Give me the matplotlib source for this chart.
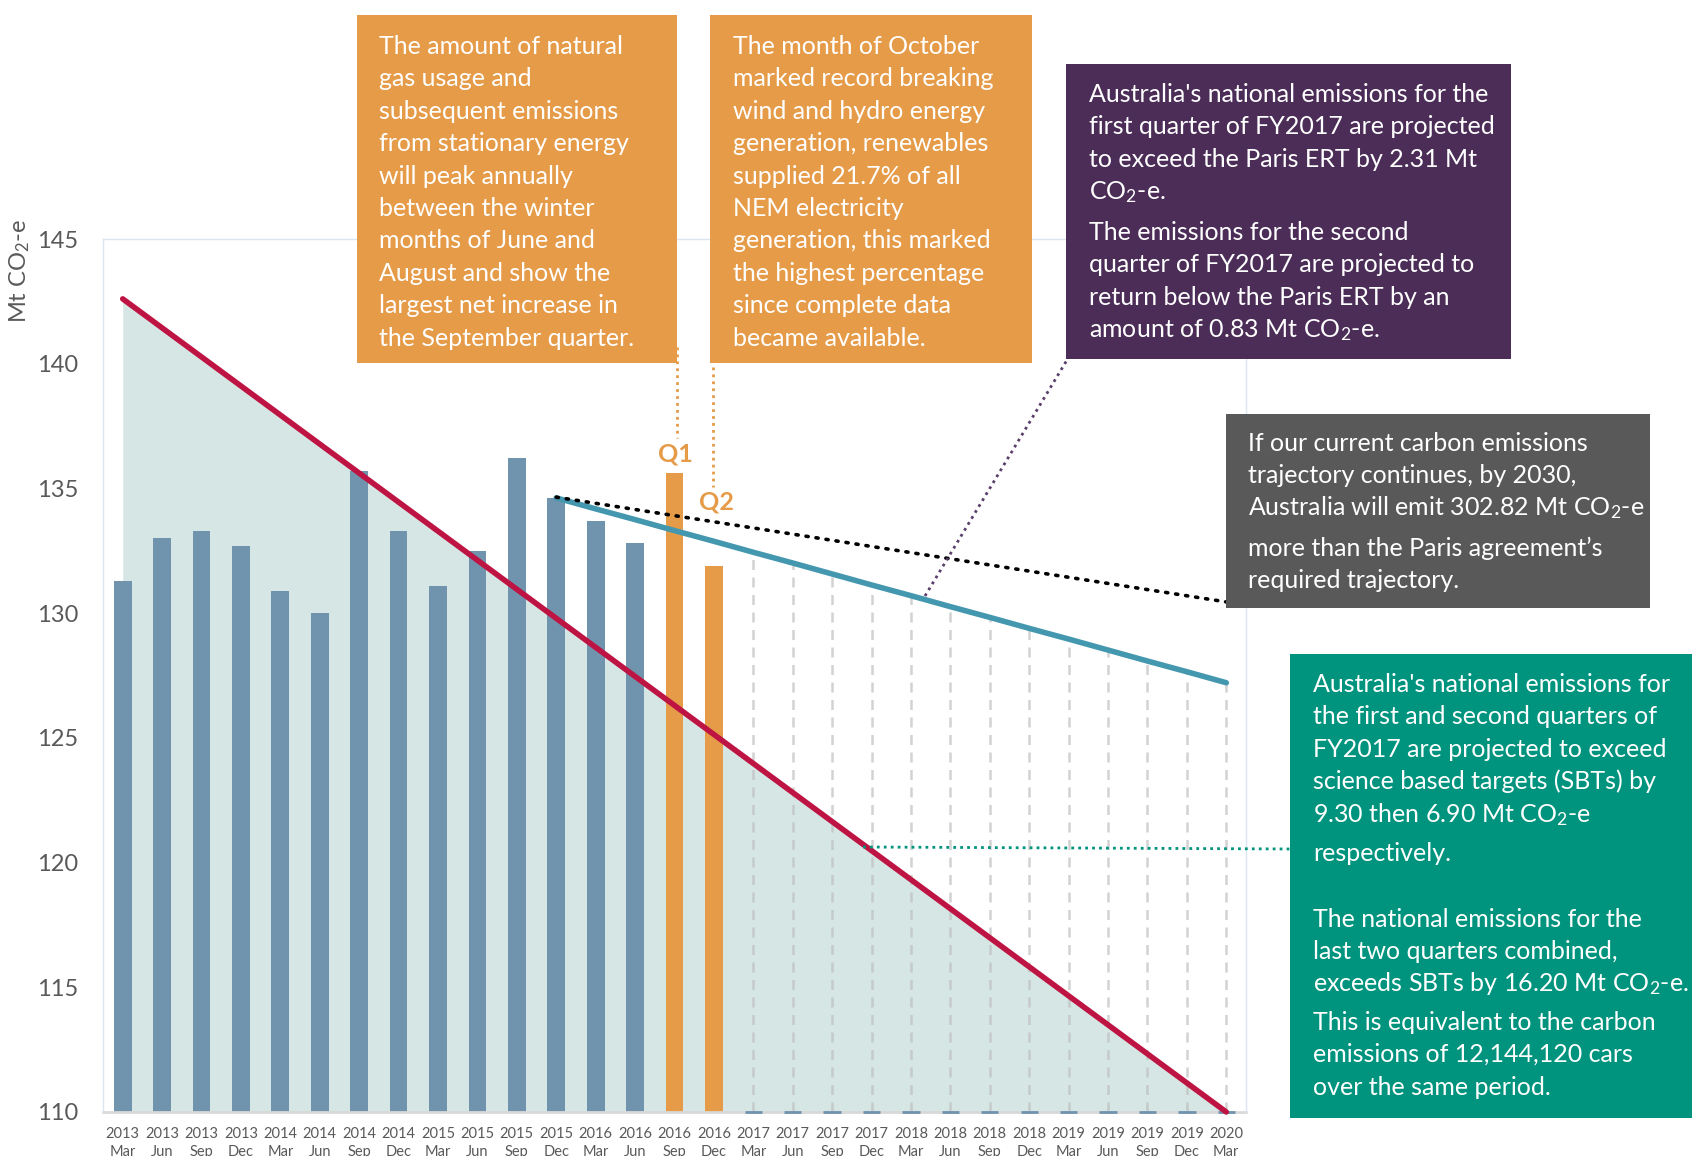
import numpy as np
import matplotlib
matplotlib.use("Agg")
import matplotlib.pyplot as plt
from matplotlib.patches import Rectangle
from matplotlib.lines import Line2D

plt.rcParams['font.family'] = ['Lato', 'DejaVu Sans']
plt.rcParams['mathtext.fontset'] = 'custom'
plt.rcParams['mathtext.rm'] = 'Lato'
plt.rcParams['mathtext.default'] = 'regular'

# ---- data ----
years = ['2013', '2013', '2013', '2013', '2014', '2014', '2014', '2014',
         '2015', '2015', '2015', '2015', '2016', '2016', '2016', '2016',
         '2017', '2017', '2017', '2017', '2018', '2018', '2018', '2018',
         '2019', '2019', '2019', '2019', '2020']
months = ['Mar', 'Jun', 'Sep', 'Dec'] * 7 + ['Mar']

actual = [131.3, 133.0, 133.3, 132.7, 130.9, 130.0, 135.7, 133.3,
          131.1, 132.5, 136.2, 134.6, 133.7, 132.8]          # 2013 Mar - 2016 Jun
fy2017 = [135.6, 131.9]                                      # Q1, Q2 (2016 Sep, Dec)

# science based target trajectory (start / end)
sbt_x = [0, 28]
sbt_y = [142.6, 110.0]

# current trajectory projection, 2015 Dec - 2020 Mar
proj = [134.62, 134.18, 133.75, 133.31, 132.88, 132.44, 132.01, 131.57, 131.13,
        130.70, 130.26, 129.83, 129.39, 128.96, 128.52, 128.08, 127.65, 127.21]
# Paris ERT trajectory (start / end)
paris_x = [11, 28]
paris_y = [134.65, 130.45]

W, H = 1702, 1156
fig = plt.figure(figsize=(W / 100, H / 100), dpi=100)
ax = fig.add_axes([103 / W, 1 - 1112 / H, 1143 / W, 873 / H])

n = len(years)
x = np.arange(n)

ax.fill_between(sbt_x, sbt_y, 110, color='#D6E6E4', lw=0, zorder=0.5)

ax.bar(x[:len(actual)], np.array(actual) - 110, bottom=110, width=0.45,
       color='#7093AE', zorder=2)
ax.bar(x[len(actual):len(actual) + 2], np.array(fy2017) - 110, bottom=110,
       width=0.45, color='#E59B48', zorder=2)
# empty future bars show as a sliver on the axis
fut = x[len(actual) + 2:]
ax.hlines([110] * len(fut), fut - 0.22, fut + 0.22, color='#7093AE', lw=2,
          zorder=2.5, clip_on=False)

# drop lines from the projection
px = x[11:]
for xi, yi in zip(px[5:], proj[5:]):
    ax.plot([xi, xi], [110, yi], color='#BFBFBF', lw=1.8, ls=(0, (4, 3)),
            alpha=0.7, zorder=1.5)

ax.plot(sbt_x, sbt_y, color='#BE1443', lw=4, solid_capstyle='round',
        zorder=3, clip_on=False)
ax.plot(px, proj, color='#4397AE', lw=4, solid_capstyle='round', zorder=4)
ax.plot(paris_x, paris_y, color='black', lw=2.6, ls=(0, (0.6, 2.2)),
        dash_capstyle='round', zorder=4.5, clip_on=False)

ax.set_xlim(-0.5, n - 0.5)
ax.set_ylim(110, 145)
ax.set_yticks(range(110, 146, 5))
ax.set_xticks(x)
ax.set_xticklabels([f'{a}\n{b}' for a, b in zip(years, months)],
                   fontsize=10.5, color='#595959', linespacing=1.35)
ax.tick_params(axis='x', length=0, pad=11)
ax.tick_params(axis='y', length=0, pad=18, labelsize=17, labelcolor='#595959')
for s in ['left', 'top', 'right']:
    ax.spines[s].set_color('#DCE5F2')
    ax.spines[s].set_linewidth(1)
ax.spines['bottom'].set_color('#D9D9D9')
ax.spines['bottom'].set_linewidth(2)
ax.spines['bottom'].set_zorder(2.2)

fig.text(20 / W, 1 - 271 / H, 'Mt CO$_2$-e', rotation=90, fontsize=17,
         color='#595959', ha='center', va='center')


def box(x0, y0, x1, y1, color):
    fig.patches.append(Rectangle((x0 / W, 1 - y1 / H), (x1 - x0) / W,
                                 (y1 - y0) / H, transform=fig.transFigure,
                                 facecolor=color, edgecolor='none', zorder=5))


def lines(x0, baselines, texts, size=18):
    for b, t in zip(baselines, texts):
        fig.text(x0 / W, 1 - b / H, t, color='white', fontsize=size,
                 ha='left', va='baseline', zorder=6)


def leader(p0, p1, color, lw=2, ls=(0, (1, 1.5))):
    fig.add_artist(Line2D([p0[0] / W, p1[0] / W], [1 - p0[1] / H, 1 - p1[1] / H],
                          transform=fig.transFigure, color=color, lw=lw, ls=ls,
                          zorder=4.8))


orange = '#E59B48'
box(357, 15, 677, 363, orange)
lines(379, [54 + 32.4 * i for i in range(10)], [
    'The amount of natural', 'gas usage and', 'subsequent emissions',
    'from stationary energy', 'will peak annually', 'between the winter',
    'months of June and', 'August and show the', 'largest net increase in',
    'the September quarter.'])

box(710, 15, 1032, 363, orange)
lines(733, [54 + 32.4 * i for i in range(10)], [
    'The month of October', 'marked record breaking', 'wind and hydro energy',
    'generation, renewables', 'supplied 21.7% of all', 'NEM electricity',
    'generation, this marked', 'the highest percentage', 'since complete data',
    'became available.'])

box(1066, 64, 1511, 359, '#4B2D58')
lines(1089, [102, 134.5, 167, 199.5, 240, 272.5, 305, 337.5], [
    "Australia's national emissions for the", 'first quarter of FY2017 are projected',
    'to exceed the Paris ERT by 2.31 Mt', 'CO$_2$-e.',
    'The emissions for the second', 'quarter of FY2017 are projected to',
    'return below the Paris ERT by an', 'amount of 0.83 Mt CO$_2$-e.'])

box(1226, 414, 1650, 608, '#595959')
lines(1248, [451, 483, 515, 556, 588], [
    'If our current carbon emissions', 'trajectory continues, by 2030,',
    'Australia will emit 302.82 Mt CO$_2$-e', 'more than the Paris agreement\u2019s',
    'required trajectory.'])

box(1290, 654, 1692, 1118, '#00937D')
lines(1313, [692, 724, 757, 789, 822, 861, 927, 959, 991, 1030, 1062, 1095], [
    "Australia's national emissions for", 'the first and second quarters of',
    'FY2017 are projected to exceed', 'science based targets (SBTs) by',
    '9.30 then 6.90 Mt CO$_2$-e', 'respectively.',
    'The national emissions for the', 'last two quarters combined,',
    'exceeds SBTs by 16.20 Mt CO$_2$-e.', 'This is equivalent to the carbon',
    'emissions of 12,144,120 cars', 'over the same period.'])

# leader lines
leader((677, 347), (677, 438), orange)
leader((713, 367), (713, 487), orange)
leader((925, 596), (1067, 360), '#5B3F6B')
leader((863, 847), (1290, 849), '#00937D')

fig.text(675 / W, 1 - 454 / H, 'Q1', color=orange, fontsize=18,
         fontweight='bold', ha='center', va='center')
fig.text(716 / W, 1 - 502 / H, 'Q2', color=orange, fontsize=18,
         fontweight='bold', ha='center', va='center')

fig.savefig('out.png', dpi=100)
